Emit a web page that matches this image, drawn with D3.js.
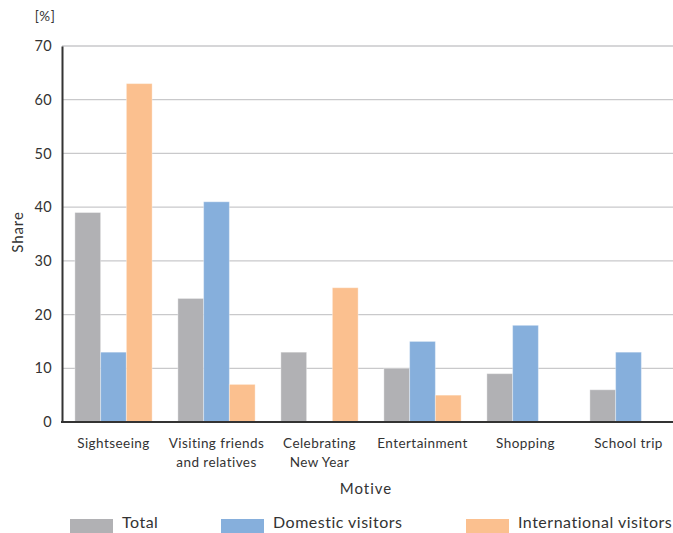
<!DOCTYPE html>
<html>
<head>
<meta charset="utf-8">
<script src="https://cdn.jsdelivr.net/npm/d3@7"></script>
<style>
  html, body { margin: 0; padding: 0; background: #fff; }
  svg { display: block; font-family: Lato, "Noto Sans", sans-serif; }
</style>
</head>
<body>
<svg id="chart" width="673" height="533"></svg>
<script>
// Share of visitors by motive, in percent
const motives = ["Sightseeing", "Visiting friends|and relatives", "Celebrating|New Year", "Entertainment", "Shopping", "School trip"];
const seriesNames = ["Total", "Domestic visitors", "International visitors"];
const total = [39, 23, 13, 10, 9, 6];
const domestic = [13, 41, 0, 15, 18, 13];
const international = [63, 7, 25, 5, 0, 0];
const yTicks = [0, 10, 20, 30, 40, 50, 60, 70];
const colors = ["#b1b1b4", "#86afdc", "#fbc08f"];

const seriesValues = [total, domestic, international];

const svg = d3.select("#chart");
const margin = { left: 62, right: 680, top: 46, bottom: 422 };

const x = d3.scaleBand().domain(motives).range([margin.left, margin.right]).paddingInner(0.25).paddingOuter(0.125);
const xs = d3.scaleBand().domain(seriesNames).range([0, x.bandwidth()]);
const y = d3.scaleLinear().domain([0, 70]).range([margin.bottom, margin.top]);

// horizontal gridlines
svg.append("g").selectAll("line").data(yTicks.filter(d => d > 0)).join("line")
  .attr("x1", margin.left).attr("x2", margin.right)
  .attr("y1", d => y(d)).attr("y2", d => y(d))
  .attr("stroke", "#c9c9cb").attr("stroke-width", 1.3);

// bars
const groups = svg.append("g").selectAll("g").data(motives).join("g")
  .attr("transform", d => `translate(${x(d)},0)`);
groups.selectAll("rect")
  .data((m, i) => seriesNames.map((s, k) => ({ s, k, v: seriesValues[k][i] })).filter(d => d.v > 0))
  .join("rect")
  .attr("x", d => xs(d.s))
  .attr("width", xs.bandwidth())
  .attr("y", d => y(d.v))
  .attr("height", d => y(0) - y(d.v))
  .attr("fill", d => colors[d.k])
  .attr("stroke", "#ffffff").attr("stroke-opacity", 0.35).attr("stroke-width", 1);

// y axis
const yAxis = svg.append("g").attr("transform", `translate(${margin.left},0)`)
  .call(d3.axisLeft(y).tickValues(yTicks).tickSize(0).tickPadding(10));
yAxis.select(".domain").attr("stroke", "#333").attr("stroke-width", 2);
yAxis.selectAll("text").attr("font-size", 14.5).attr("fill", "#333")
  .attr("font-family", "Lato, sans-serif").attr("letter-spacing", 0.3);

// baseline
svg.append("line").attr("x1", margin.left - 1).attr("x2", margin.right)
  .attr("y1", y(0)).attr("y2", y(0)).attr("stroke", "#333").attr("stroke-width", 2);

// category labels
const labels = svg.append("g").selectAll("text").data(motives).join("text")
  .attr("x", d => x(d) + x.bandwidth() / 2)
  .attr("y", 448)
  .attr("text-anchor", "middle")
  .attr("font-size", 13.5).attr("letter-spacing", 0.45).attr("fill", "#333");
labels.each(function (d) {
  const t = d3.select(this);
  d.split("|").forEach((line, i) => {
    t.append("tspan").attr("x", x(d) + x.bandwidth() / 2).attr("dy", i === 0 ? 0 : 18.5).text(line);
  });
});

// axis titles
svg.append("text").attr("x", 366).attr("y", 494).attr("text-anchor", "middle")
  .attr("font-size", 15).attr("letter-spacing", 1).attr("fill", "#333").text("Motive");
svg.append("text").attr("transform", "translate(23,232) rotate(-90)").attr("text-anchor", "middle")
  .attr("font-size", 15).attr("letter-spacing", 0.9).attr("fill", "#333").text("Share");
svg.append("text").attr("x", 45).attr("y", 21).attr("text-anchor", "middle")
  .attr("font-size", 13.5).attr("letter-spacing", 0.5).attr("fill", "#333").text("[%]");

// legend
const legendX = [70, 221, 466];
const legend = svg.append("g").selectAll("g").data(seriesNames).join("g")
  .attr("transform", (d, i) => `translate(${legendX[i]},519)`);
legend.append("rect").attr("width", 43).attr("height", 14).attr("fill", (d, i) => colors[i]);
legend.append("text").attr("x", 52).attr("y", 9).attr("font-size", 16).attr("letter-spacing", 0.5)
  .attr("fill", "#333").text(d => d);
</script>
</body>
</html>
